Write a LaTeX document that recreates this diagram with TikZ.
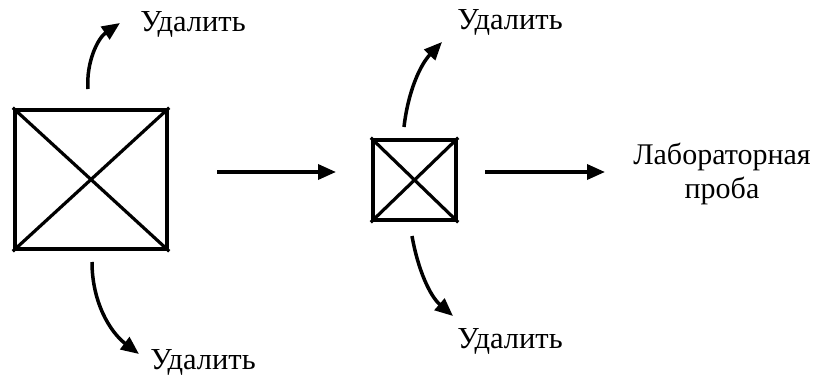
\documentclass[tikz,border=0pt]{standalone}
\usepackage{fontspec}
\setmainfont{Liberation Serif}
\usetikzlibrary{arrows.meta}
\begin{document}
\begin{tikzpicture}[x=1pt,y=-1pt,
  boxx/.style={draw,line width=4.5pt,rectangle,inner sep=0pt},
  diag/.style={line width=3.2pt},
  arr/.style={line width=3.5pt,-{Triangle[length=18pt,width=15pt]}},
  lbl/.style={font=\fontsize{30.5}{33}\selectfont,inner sep=0pt,align=center}]
\useasboundingbox (0,0) rectangle (815,380);
\node[boxx,minimum width=152pt,minimum height=139pt] (b1) at (91,179.5) {};
\draw[diag] (b1.north west) -- (b1.south east) (b1.north east) -- (b1.south west);
\node[boxx,minimum width=83pt,minimum height=80pt] (b2) at (414.5,180) {};
\draw[diag] (b2.north west) -- (b2.south east) (b2.north east) -- (b2.south west);
\node[lbl] (t1) at (193,24) {Удалить};
\node[lbl] (t2) at (203,362) {Удалить};
\node[lbl] (t3) at (510,22) {Удалить};
\node[lbl] (t4) at (510,341) {Удалить};
\node[lbl,font=\fontsize{30}{34}\selectfont] (t5) at (722,174) {Лабораторная\\проба};
\coordinate (a1s) at (217,172); \coordinate (a1e) at (336,172);
\coordinate (a2s) at (485,172); \coordinate (a2e) at (605,172);
\draw[arr] (a1s) -- (a1e);
\draw[arr] (a2s) -- (a2e);
\coordinate (c1s) at (88,89); \coordinate (c1e) at (120,23);
\coordinate (c2s) at (92,262); \coordinate (c2e) at (139,354);
\coordinate (c3s) at (404,127); \coordinate (c3e) at (442,42);
\coordinate (c4s) at (412,236); \coordinate (c4e) at (453,316);
\draw[arr] (c1s) .. controls (86,62) and (98,38) .. (c1e);
\draw[arr] (c2s) .. controls (92,302) and (110,332) .. (c2e);
\draw[arr] (c3s) .. controls (408,92) and (420,65) .. (c3e);
\draw[arr] (c4s) .. controls (418,270) and (430,296) .. (c4e);
\end{tikzpicture}
\end{document}
